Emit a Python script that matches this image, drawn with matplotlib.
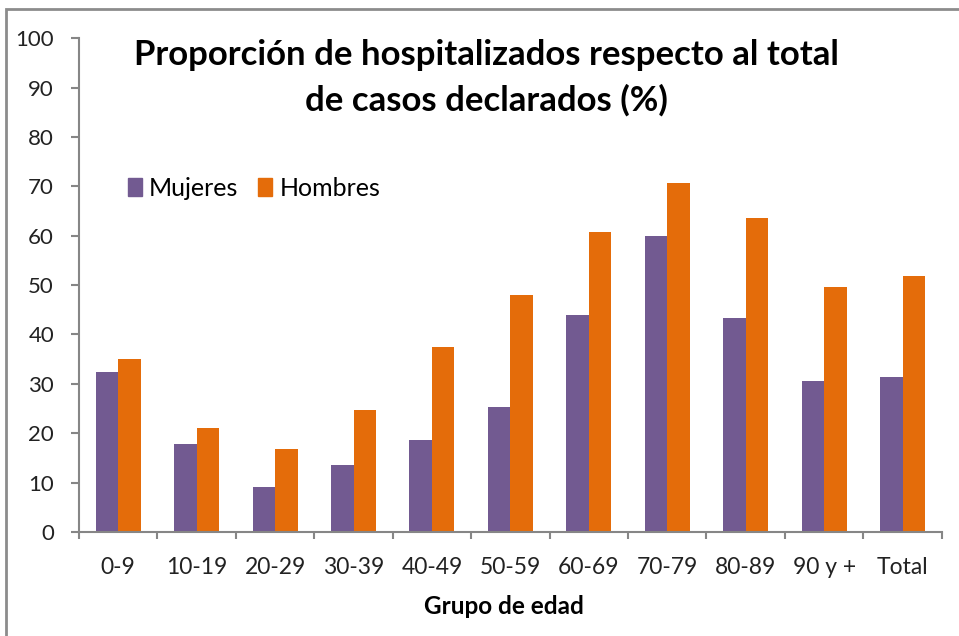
import matplotlib.pyplot as plt
import matplotlib.patches as mpatches
import numpy as np

grupos = ["0-9", "10-19", "20-29", "30-39", "40-49", "50-59",
          "60-69", "70-79", "80-89", "90 y +", "Total"]
mujeres = [32.4, 17.8, 9.1, 13.5, 18.6, 25.4, 43.9, 59.9, 43.3, 30.6, 31.4]
hombres = [35.0, 21.0, 16.8, 24.7, 37.4, 48.0, 60.7, 70.7, 63.6, 49.6, 51.9]

purple = "#725A91"
orange = "#E46C0A"
axis_gray = "#868686"

plt.rcParams["font.family"] = ["Lato", "DejaVu Sans"]

fig = plt.figure(figsize=(9.59, 6.36), dpi=100)
ax = fig.add_axes([0.0824, 0.1635, 0.982 - 0.0824, 0.940 - 0.1635])

x = np.arange(len(grupos))
w = 0.287
ax.bar(x - w / 2, mujeres, w, color=purple, label="Mujeres")
ax.bar(x + w / 2, hombres, w, color=orange, label="Hombres")

ax.set_xlim(-0.5, len(grupos) - 0.5)
ax.set_ylim(0, 100)
ax.set_yticks(range(0, 101, 10))
ax.set_xticks(x)
ax.set_xticklabels(grupos)
ax.set_xticks(np.arange(-0.5, len(grupos)), minor=True)

for s in ["top", "right"]:
    ax.spines[s].set_visible(False)
for s in ["left", "bottom"]:
    ax.spines[s].set_color(axis_gray)
    ax.spines[s].set_linewidth(1.5)

ax.tick_params(axis="y", direction="out", length=6, width=1.5, color=axis_gray,
               labelsize=16, labelcolor="#222222", pad=12)
ax.tick_params(axis="x", which="major", length=0, labelsize=16.5,
               labelcolor="#222222", pad=18)
ax.tick_params(axis="x", which="minor", direction="out", length=5, width=1.5,
               color=axis_gray)

fig.text(0.5075, 0.9135, "Proporción de hospitalizados respecto al total",
         ha="center", va="center", fontsize=25, fontweight="bold")
fig.text(0.5075, 0.843, "de casos declarados (%)",
         ha="center", va="center", fontsize=25, fontweight="bold")

fig.text(0.526, 0.046, "Grupo de edad", ha="center", va="center",
         fontsize=17.5, fontweight="bold")

handles = [mpatches.Patch(color=purple, label="Mujeres"),
           mpatches.Patch(color=orange, label="Hombres")]
ax.legend(handles=handles, loc="upper left", bbox_to_anchor=(0.045, 0.74),
          ncol=2, frameon=False, fontsize=18, handlelength=0.55,
          handleheight=0.7, handletextpad=0.3, columnspacing=0.8,
          borderaxespad=0)

border = mpatches.Rectangle((6 / 959, -0.05), 1.1, 1 - 9 / 636 + 0.05,
                            transform=fig.transFigure, fill=False,
                            edgecolor="#8c8c8c", linewidth=2)
fig.patches.append(border)

fig.savefig("out.png", dpi=100)
plt.close(fig)
